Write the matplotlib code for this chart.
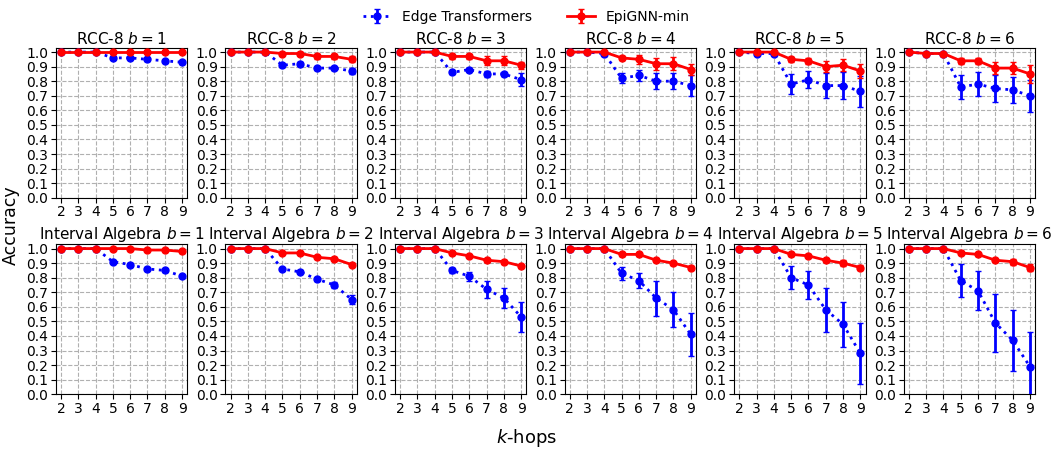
import numpy as np
import matplotlib.pyplot as plt

hops = [2, 3, 4, 5, 6, 7, 8, 9]
budgets = [1, 2, 3, 4, 5, 6]

# RCC-8: Edge Transformers (mean, err) per b
rccEt = [
    [1.00, 1.00, 1.00, 0.96, 0.96, 0.95, 0.94, 0.93],
    [1.00, 1.00, 1.00, 0.91, 0.92, 0.89, 0.89, 0.87],
    [1.00, 1.00, 1.00, 0.86, 0.88, 0.85, 0.85, 0.81],
    [1.00, 1.00, 0.99, 0.82, 0.84, 0.80, 0.80, 0.77],
    [1.00, 0.99, 0.99, 0.78, 0.81, 0.77, 0.77, 0.73],
    [1.00, 0.99, 0.99, 0.76, 0.78, 0.75, 0.74, 0.70],
]
rccEtErr = [
    [0.0, 0.0, 0.0, 0.008, 0.008, 0.008, 0.008, 0.01],
    [0.0, 0.0, 0.0, 0.01, 0.01, 0.01, 0.01, 0.02],
    [0.0, 0.0, 0.0, 0.01, 0.01, 0.02, 0.015, 0.045],
    [0.0, 0.0, 0.005, 0.035, 0.04, 0.055, 0.055, 0.07],
    [0.0, 0.005, 0.005, 0.07, 0.06, 0.085, 0.09, 0.105],
    [0.0, 0.005, 0.005, 0.08, 0.08, 0.09, 0.09, 0.11],
]
rccEpi = [
    [1.00, 1.00, 1.00, 1.00, 1.00, 1.00, 1.00, 1.00],
    [1.00, 1.00, 1.00, 0.99, 0.99, 0.97, 0.97, 0.95],
    [1.00, 1.00, 1.00, 0.97, 0.97, 0.94, 0.94, 0.91],
    [1.00, 1.00, 1.00, 0.96, 0.95, 0.92, 0.92, 0.88],
    [1.00, 1.00, 1.00, 0.95, 0.94, 0.90, 0.91, 0.87],
    [1.00, 0.99, 0.99, 0.94, 0.94, 0.89, 0.89, 0.85],
]
rccEpiErr = [
    [0.0, 0.0, 0.0, 0.003, 0.003, 0.003, 0.003, 0.003],
    [0.0, 0.0, 0.0, 0.008, 0.01, 0.015, 0.02, 0.02],
    [0.0, 0.0, 0.0, 0.015, 0.015, 0.03, 0.03, 0.025],
    [0.0, 0.0, 0.003, 0.015, 0.03, 0.04, 0.045, 0.04],
    [0.0, 0.0, 0.003, 0.015, 0.02, 0.04, 0.04, 0.05],
    [0.0, 0.003, 0.003, 0.02, 0.02, 0.04, 0.04, 0.06],
]

# Interval Algebra
iaEt = [
    [1.00, 1.00, 1.00, 0.91, 0.89, 0.86, 0.85, 0.81],
    [1.00, 1.00, 1.00, 0.86, 0.84, 0.79, 0.75, 0.65],
    [1.00, 1.00, 1.00, 0.85, 0.81, 0.72, 0.66, 0.53],
    [1.00, 1.00, 1.00, 0.83, 0.78, 0.66, 0.58, 0.41],
    [1.00, 1.00, 1.00, 0.80, 0.75, 0.58, 0.48, 0.28],
    [1.00, 1.00, 1.00, 0.78, 0.71, 0.49, 0.37, 0.19],
]
iaEtErr = [
    [0.0, 0.0, 0.0, 0.008, 0.008, 0.008, 0.008, 0.01],
    [0.0, 0.0, 0.0, 0.01, 0.01, 0.01, 0.02, 0.03],
    [0.0, 0.0, 0.0, 0.02, 0.03, 0.06, 0.07, 0.105],
    [0.0, 0.0, 0.0, 0.045, 0.05, 0.12, 0.12, 0.145],
    [0.0, 0.0, 0.0, 0.08, 0.095, 0.15, 0.155, 0.21],
    [0.0, 0.0, 0.0, 0.115, 0.135, 0.20, 0.21, 0.24],
]
iaEpi = [
    [1.00, 1.00, 1.00, 1.00, 1.00, 0.99, 0.99, 0.98],
    [1.00, 1.00, 1.00, 0.97, 0.97, 0.94, 0.93, 0.89],
    [1.00, 1.00, 1.00, 0.97, 0.95, 0.92, 0.91, 0.88],
    [1.00, 1.00, 1.00, 0.96, 0.96, 0.92, 0.90, 0.87],
    [1.00, 1.00, 1.00, 0.96, 0.95, 0.92, 0.90, 0.87],
    [1.00, 1.00, 1.00, 0.97, 0.96, 0.92, 0.91, 0.87],
]
iaEpiErr = [
    [0.0, 0.0, 0.0, 0.003, 0.003, 0.005, 0.005, 0.008],
    [0.0, 0.0, 0.0, 0.008, 0.008, 0.008, 0.01, 0.01],
    [0.0, 0.0, 0.0, 0.008, 0.008, 0.01, 0.01, 0.01],
    [0.0, 0.0, 0.0, 0.01, 0.01, 0.01, 0.01, 0.01],
    [0.0, 0.0, 0.0, 0.01, 0.01, 0.01, 0.02, 0.02],
    [0.0, 0.0, 0.0, 0.01, 0.01, 0.01, 0.02, 0.025],
]

rows = [
    ("RCC-8", rccEt, rccEtErr, rccEpi, rccEpiErr),
    ("Interval Algebra", iaEt, iaEtErr, iaEpi, iaEpiErr),
]

plt.rcParams['font.size'] = 10
fig, axs = plt.subplots(2, 6, figsize=(10.53, 4.5), dpi=100)
fig.subplots_adjust(left=0.053, right=0.983, top=0.894, bottom=0.124,
                    wspace=0.29, hspace=0.31)

yTicks = np.round(np.arange(0, 1.01, 0.1), 1)
for r, (name, et, etErr, epi, epiErr) in enumerate(rows):
    for c, b in enumerate(budgets):
        ax = axs[r, c]
        ax.errorbar(hops, et[c], yerr=etErr[c], color='blue', linestyle=':',
                    linewidth=2, marker='o', markersize=5, elinewidth=2,
                    capsize=2, label='Edge Transformers', zorder=3)
        ax.errorbar(hops, epi[c], yerr=epiErr[c], color='red', linestyle='-',
                    linewidth=2, marker='o', markersize=5, elinewidth=2,
                    capsize=2, label='EpiGNN-min', zorder=4)
        ax.set_ylim(0, 1.03)
        ax.set_xlim(1.7, 9.3)
        ax.set_yticks(yTicks)
        ax.set_yticklabels([f"{v:.1f}" for v in yTicks])
        ax.set_xticks(hops)
        ax.tick_params(labelsize=10, pad=2)
        ax.grid(True, linestyle='--', color='#b0b0b0', linewidth=0.8)
        ax.set_title(f"{name} $b = {b}$", fontsize=11, pad=3)

handles, labels = axs[0, 0].get_legend_handles_labels()
fig.legend(handles, labels, loc='upper center', ncol=2, frameon=False,
           fontsize=10, bbox_to_anchor=(0.5, 1.005), columnspacing=2.5)
fig.text(0.5, 0.015, "$k$-hops", ha='center', fontsize=13)
fig.text(0.002, 0.5, "Accuracy", va='center', rotation=90, fontsize=12.5)

fig.savefig("out.png", dpi=100)
